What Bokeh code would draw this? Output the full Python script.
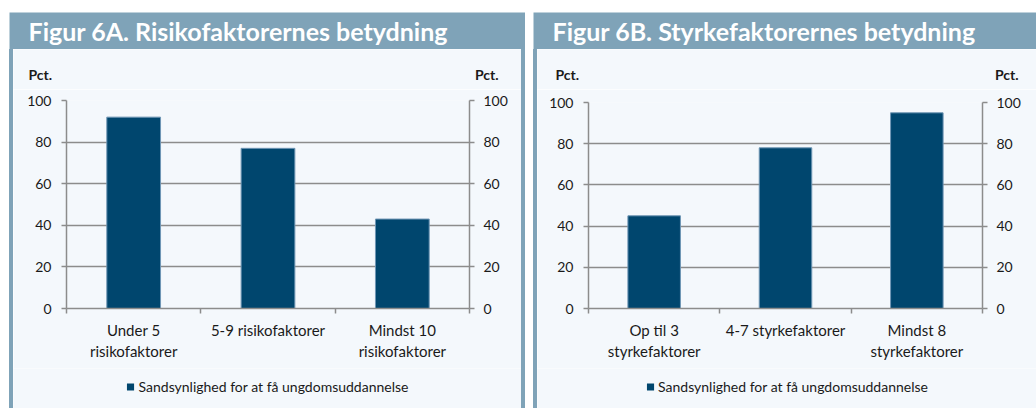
from bokeh.plotting import figure
from bokeh.layouts import row, column
from bokeh.models import (Range1d, FixedTicker, LinearAxis, Label, Legend,
                          LegendItem, Spacer)
from bokeh.embed import file_html
from bokeh.resources import INLINE

# ---------------- data ----------------
title_a = "Figur 6A. Risikofaktorernes betydning"
title_b = "Figur 6B. Styrkefaktorernes betydning"
cats_a = ["Under 5\nrisikofaktorer", "5-9 risikofaktorer", "Mindst 10\nrisikofaktorer"]
vals_a = [92, 77, 43]
cats_b = ["Op til 3\nstyrkefaktorer", "4-7 styrkefaktorer", "Mindst 8\nstyrkefaktorer"]
vals_b = [45, 78, 95]
y_ticks = [0, 20, 40, 60, 80, 100]
unit_label = "Pct."
series_name = "Sandsynlighed for at få ungdomsuddannelse"

# ---------------- style ----------------
BLUE = "#7fa3b8"
LIGHT = "#f4f8fc"
BAR = "#00466e"
BAR_EDGE = "#6f96b5"
GRID = "#8c8c8c"
TXT = "#1a1a1a"
FONT = "Lato"


def blank_fig(width, height, bg):
    f = figure(width=width, height=height, x_range=Range1d(0, width),
               y_range=Range1d(0, height), min_border=0, toolbar_location=None,
               output_backend="svg", x_axis_type=None, y_axis_type=None,
               background_fill_color=bg, border_fill_color=bg,
               outline_line_color=None, frame_align=False)
    f.grid.visible = False
    return f


def title_fig(text, width):
    t = blank_fig(width, 37, BLUE)
    t.add_layout(Label(x=19, y=19, text=text, text_font=FONT, text_font_style="bold",
                       text_font_size="25px", text_color="white",
                       text_baseline="middle", text_align="left"))
    return t


def pct_fig(width, xl, xr):
    f = blank_fig(width, 40, LIGHT)
    for x, align in ((xl, "left"), (xr, "right")):
        f.add_layout(Label(x=x, y=15, text=unit_label, text_font=FONT,
                           text_font_style="bold", text_font_size="14px",
                           text_color=TXT, text_align=align, text_baseline="middle"))
    return f


def legend_fig(width):
    f = blank_fig(width, 40, LIGHT)
    # off-canvas helper glyph that only supplies the legend swatch
    swatch = f.rect(x=[-1000], y=[-1000], width=1, height=1,
                    fill_color=BAR, line_color=None)
    leg = Legend(items=[LegendItem(label=series_name, renderers=[swatch])],
                 location="top_center", orientation="horizontal",
                 glyph_width=9, glyph_height=9, label_standoff=4,
                 label_text_font=FONT, label_text_font_size="14px",
                 label_text_color=TXT, background_fill_alpha=0,
                 border_line_color=None, padding=0, margin=10)
    f.add_layout(leg, "center")
    return f


def style_yaxis(ax, standoff):
    ax.ticker = FixedTicker(ticks=y_ticks)
    ax.major_tick_out = 5
    ax.major_tick_in = 0
    ax.minor_tick_line_color = None
    ax.major_tick_line_color = GRID
    ax.major_tick_line_width = 1.5
    ax.axis_line_color = GRID
    ax.axis_line_width = 1.5
    ax.major_label_text_font = FONT
    ax.major_label_text_font_size = "14px"
    ax.major_label_text_color = TXT
    ax.major_label_standoff = standoff


def chart(cats, vals, width, ml, mr, mt):
    p = figure(width=width, height=279, x_range=Range1d(0, 3), y_range=Range1d(0, 100),
               min_border_left=ml, min_border_right=mr, min_border_top=mt,
               min_border_bottom=60, toolbar_location=None, output_backend="svg",
               background_fill_color=LIGHT, border_fill_color=LIGHT,
               outline_line_color=None, frame_align=False)
    xs = [i + 0.5 for i in range(len(vals))]
    p.vbar(x=xs, top=vals, width=0.4, fill_color=BAR, line_color=BAR_EDGE, line_width=1)

    xa = p.xaxis[0]
    xa.ticker = FixedTicker(ticks=xs, minor_ticks=list(range(len(vals) + 1)))
    xa.major_label_overrides = {x: c for x, c in zip(xs, cats)}
    xa.major_tick_out = 0
    xa.major_tick_in = 0
    xa.minor_tick_out = 5
    xa.minor_tick_in = 0
    xa.minor_tick_line_color = GRID
    xa.minor_tick_line_width = 1.5
    xa.axis_line_color = GRID
    xa.axis_line_width = 1.5
    xa.major_label_text_font = FONT
    xa.major_label_text_font_size = "15px"
    xa.major_label_text_color = TXT
    xa.major_label_standoff = 7

    style_yaxis(p.yaxis[0], 10)
    ra = LinearAxis()
    style_yaxis(ra, 9)
    p.add_layout(ra, "right")

    p.xgrid.visible = False
    p.ygrid.ticker = FixedTicker(ticks=y_ticks)
    p.ygrid.grid_line_color = GRID
    p.ygrid.grid_line_width = 1.5
    return p


def strip():
    return Spacer(width=4, height=359, styles={"background-color": BLUE})


# left panel: x 9..525 ; inner 13..521
pa = chart(cats_a, vals_a, 508, 53, 52, 11)
body_a = column(pct_fig(508, 15, 485), pa, legend_fig(508))
panel_a = column(Spacer(width=516, height=12), title_fig(title_a, 516),
                 row(strip(), body_a, strip()))

# right panel: x 533..1036 ; inner 537..1036
pb = chart(cats_b, vals_b, 499, 51, 54, 13)
body_b = column(pct_fig(499, 18, 481), pb, legend_fig(499))
panel_b = column(Spacer(width=503, height=12), title_fig(title_b, 503),
                 row(strip(), body_b))

layout = row(Spacer(width=9, height=408), panel_a, Spacer(width=8, height=408), panel_b)

open("out.html", "w").write(file_html(layout, INLINE))
